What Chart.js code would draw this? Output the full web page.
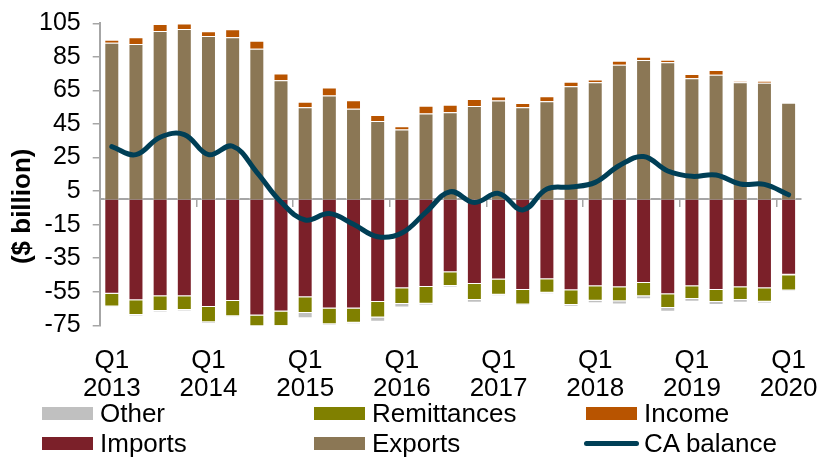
<!DOCTYPE html>
<html>
<head>
<meta charset="utf-8">
<script src="https://cdn.jsdelivr.net/npm/chart.js@4.4.1/dist/chart.umd.min.js"></script>
<style>
    body { margin: 0; background: #fff; }
    #wrap { position: relative; width: 832px; height: 457px; }
    #legend {
        position: absolute; left: 42px; top: 398px;
        display: grid; grid-template-columns: 272px 272px 272px; grid-auto-rows: 30px;
        font: 26px "Liberation Sans", Arial, sans-serif; color: #000;
    }
    #legend .item { display: flex; align-items: center; white-space: nowrap; }
    #legend .swatch { display: inline-block; width: 51px; height: 13px; margin-right: 7px; }
    #legend .swatch.line { width: 55px; height: 5px; border-radius: 3px; margin-left: -2px; margin-right: 5px; }
</style>
</head>
<body>
<div id="wrap">
    <canvas id="caChart"></canvas>
    <div id="legend"></div>
</div>
<script>
// Quarterly current account components, $ billion
const quarters = [
    'Q1 2013', 'Q2 2013', 'Q3 2013', 'Q4 2013',
    'Q1 2014', 'Q2 2014', 'Q3 2014', 'Q4 2014',
    'Q1 2015', 'Q2 2015', 'Q3 2015', 'Q4 2015',
    'Q1 2016', 'Q2 2016', 'Q3 2016', 'Q4 2016',
    'Q1 2017', 'Q2 2017', 'Q3 2017', 'Q4 2017',
    'Q1 2018', 'Q2 2018', 'Q3 2018', 'Q4 2018',
    'Q1 2019', 'Q2 2019', 'Q3 2019', 'Q4 2019',
    'Q1 2020'
];
const exportsData = [93.4, 92.6, 100.4, 101.6, 97.4, 96.6, 89.8, 71.1, 54.9, 61.9, 54.1, 46.7, 41.7, 51.3, 51.9, 55.7, 58.9, 54.9, 58.5, 67.5, 69.9, 80.2, 83.1, 81.8, 72.3, 74.3, 69.9, 69.5, 57.7];
const incomeData = [1.8, 4.0, 4.2, 3.2, 2.8, 4.8, 4.8, 4.0, 3.4, 4.8, 5.0, 3.6, 2.0, 4.6, 4.6, 4.2, 2.4, 2.6, 3.0, 2.6, 1.6, 2.4, 1.9, 1.4, 2.4, 2.9, 0.6, 1.3, -0.4];
const importsData = [-56.1, -60.1, -57.7, -57.7, -64.1, -60.5, -69.1, -66.7, -58.3, -64.9, -64.9, -61.1, -52.9, -52.1, -43.3, -50.3, -47.7, -53.9, -47.5, -54.1, -51.7, -52.3, -49.7, -56.5, -51.7, -53.9, -52.3, -52.9, -44.8];
const remittancesData = [-7.6, -8.8, -8.8, -8.2, -9.0, -9.0, -7.2, -8.8, -9.4, -9.4, -8.6, -9.2, -9.4, -10.0, -8.2, -9.6, -9.0, -8.6, -8.0, -8.8, -8.6, -8.4, -8.0, -8.2, -7.6, -7.2, -7.6, -8.0, -9.0];
const otherData = [-0.5, -0.4, -0.4, -0.4, -0.9, -0.3, -0.6, -0.8, -3.0, -0.8, -0.6, -2.6, -2.0, -0.8, -0.6, -1.6, -0.6, -0.8, -0.6, -0.8, -1.6, -1.8, -1.8, -2.2, -1.6, -1.8, -1.6, -1.0, -0.8];
const caBalanceData = [31.5, 26.7, 37.1, 38.7, 26.7, 31.7, 16.2, -1.5, -12.2, -8.4, -14.8, -22.2, -20.0, -7.5, 4.6, -1.8, 3.6, -6.2, 6.2, 7.4, 10.2, 20.2, 25.6, 17.0, 13.8, 14.6, 9.2, 9.0, 2.8];
const yTicks = [-75, -55, -35, -15, 5, 25, 45, 65, 85, 105];

const FONT = '"Liberation Sans", Arial, sans-serif';
const AXIS_GREY = '#A6A6A6';
const barEdge = 'rgba(255,255,255,0.55)';

function barSet(label, data, color) {
    return {
        type: 'bar', label: label, data: data, backgroundColor: color,
        borderColor: barEdge, borderWidth: 1, order: 1,
        barPercentage: 0.62, categoryPercentage: 1, xAxisID: 'x'
    };
}

// y axis title sits a bit below the plot centre, like the original
const yTitlePlugin = {
    id: 'yTitle',
    afterDraw(chart) {
        const c = chart.ctx;
        const a = chart.chartArea;
        const mid = (a.top + a.bottom) / 2 + 32;
        c.save();
        c.translate(23, mid);
        c.rotate(-Math.PI / 2);
        c.font = 'bold 26px ' + FONT;
        c.fillStyle = '#000';
        c.textAlign = 'center';
        c.textBaseline = 'middle';
        c.fillText('($ billion)', 0, 0);
        c.restore();
    }
};

const ctx = document.getElementById('caChart').getContext('2d');
const caChart = new Chart(ctx, {
    data: {
        labels: quarters,
        datasets: [
            {
                type: 'line', label: 'CA balance', data: caBalanceData,
                borderColor: '#003F56', backgroundColor: '#003F56', borderWidth: 5,
                borderCapStyle: 'round', borderJoinStyle: 'round',
                pointRadius: 0, tension: 0.4, order: 0, xAxisID: 'x'
            },
            barSet('Exports', exportsData, '#8B7755'),
            barSet('Imports', importsData, '#7B2029'),
            barSet('Income', incomeData, '#B85400'),
            barSet('Remittances', remittancesData, '#808000'),
            barSet('Other', otherData, '#C0C0C0')
        ]
    },
    options: {
        responsive: true,
        maintainAspectRatio: false,
        animation: false,
        layout: { padding: { left: 27, right: 27, top: 0, bottom: 40 } },
        plugins: {
            legend: { display: false },
            tooltip: { enabled: false }
        },
        scales: {
            x: {
                type: 'category',
                stacked: true,
                position: { y: 0 },
                offset: true,
                ticks: { display: false, autoSkip: false },
                grid: {
                    drawOnChartArea: false,
                    tickLength: 7,
                    lineWidth: 1.5,
                    color: (c) => c.index % 4 === 0 ? AXIS_GREY : 'rgba(0,0,0,0)'
                },
                border: { color: AXIS_GREY, width: 2 }
            },
            x2: {
                type: 'category',
                labels: quarters,
                position: 'bottom',
                offset: true,
                grid: { display: false },
                border: { display: false },
                ticks: {
                    autoSkip: false, maxRotation: 0, padding: 14,
                    color: '#000',
                    font: { family: FONT, size: 26, lineHeight: 1.07 },
                    callback: function (v) {
                        const q = this.getLabelForValue(v);
                        return q.startsWith('Q1') ? q.split(' ') : '';
                    }
                }
            },
            y: {
                stacked: true,
                min: -75,
                max: 105,
                afterBuildTicks: (axis) => { axis.ticks = yTicks.map(v => ({ value: v })); },
                ticks: { color: '#000', padding: 12, autoSkip: false, font: { family: FONT, size: 25, lineHeight: 0.9 } },
                grid: { drawOnChartArea: false, tickLength: 7, color: AXIS_GREY, lineWidth: 1.5 },
                border: { color: AXIS_GREY, width: 2 }
            }
        }
    },
    plugins: [yTitlePlugin]
});

// HTML legend laid out in three columns like the original
const legendOrder = ['Other', 'Remittances', 'Income', 'Imports', 'Exports', 'CA balance'];
const legendBox = document.getElementById('legend');
legendOrder.forEach(name => {
    const ds = caChart.data.datasets.find(d => d.label === name);
    const item = document.createElement('div');
    item.className = 'item';
    const sw = document.createElement('span');
    sw.className = ds.type === 'line' ? 'swatch line' : 'swatch';
    sw.style.background = ds.type === 'line' ? ds.borderColor : ds.backgroundColor;
    item.appendChild(sw);
    item.appendChild(document.createTextNode(name));
    legendBox.appendChild(item);
});
</script>
</body>
</html>
